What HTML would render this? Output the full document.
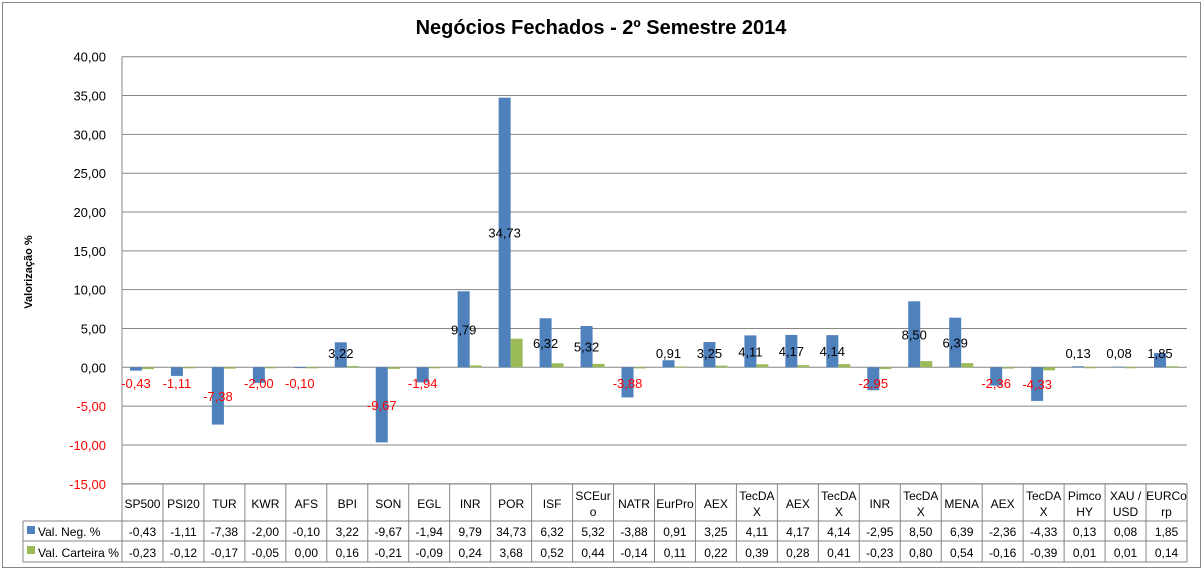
<!DOCTYPE html>
<html><head><meta charset="utf-8"><style>
body{margin:0;background:#fff;}
svg{display:block;font-family:"Liberation Sans","DejaVu Sans",sans-serif;}
</style></head><body>
<svg id="c" width="1204" height="571" xmlns="http://www.w3.org/2000/svg"></svg>
<script>
const cats=["SP500","PSI20","TUR","KWR","AFS","BPI","SON","EGL","INR","POR","ISF","SCEur|o","NATR","EurPro","AEX","TecDA|X","AEX","TecDA|X","INR","TecDA|X","MENA","AEX","TecDA|X","Pimco|HY","XAU /|USD","EURCo|rp"];
const a=[-0.43,-1.11,-7.38,-2.00,-0.10,3.22,-9.67,-1.94,9.79,34.73,6.32,5.32,-3.88,0.91,3.25,4.11,4.17,4.14,-2.95,8.50,6.39,-2.36,-4.33,0.13,0.08,1.85];
const b=[-0.23,-0.12,-0.17,-0.05,0.00,0.16,-0.21,-0.09,0.24,3.68,0.52,0.44,-0.14,0.11,0.22,0.39,0.28,0.41,-0.23,0.80,0.54,-0.16,-0.39,0.01,0.01,0.14];
const L=122,R=1187,W=(R-L)/26,Y0=367.3,S=7.764;
const y=v=>Y0-v*S;
const f=v=>v.toFixed(2).replace('.',',');
let s='';
s+='<rect x="2.5" y="2.5" width="1198" height="565" fill="#fff" stroke="#868686"/>';
s+='<text x="601" y="34" font-size="20" font-weight="bold" text-anchor="middle">Negócios Fechados - 2º Semestre 2014</text>';
s+='<text transform="translate(32,272) rotate(-90)" font-size="11" font-weight="bold" text-anchor="middle">Valorização %</text>';
for(let v=40;v>=-15;v-=5){const yy=y(v);
 s+=`<line x1="${L}" x2="${R}" y1="${yy}" y2="${yy}" stroke="#868686"/>`;
 s+=`<text x="106" y="${yy+5}" font-size="13" text-anchor="end" fill="${v<0?'#f00':'#000'}">${f(v)}</text>`;}
s+=`<line x1="${L}" x2="${L}" y1="${y(40)}" y2="562" stroke="#868686"/>`;
for(let i=0;i<26;i++){const c=L+W*(i+0.5);
 const ya=y(a[i]),yb=y(b[i]);
 s+=`<rect x="${c-12.5}" y="${Math.min(ya,Y0)}" width="12" height="${Math.abs(ya-Y0)}" fill="#4F81BD"/>`;
 s+=`<rect x="${c-0.5}" y="${Math.min(yb,Y0)}" width="12" height="${Math.max(Math.abs(yb-Y0),1)}" fill="#9BBB59"/>`;
 let ly=(ya+Y0)/2; if(a[i]>=0) ly=Math.min(ly,353); else ly=Math.max(ly,383);
 s+=`<text x="${c-6.5}" y="${ly+5}" font-size="13" text-anchor="middle" fill="${a[i]<0?'#f00':'#000'}">${f(a[i])}</text>`;
}
const T=484,H1=521,H2=541,H3=562;
s+=`<line x1="${L}" x2="${R}" y1="${T}" y2="${T}" stroke="#868686"/>`;
s+=`<line x1="23" x2="${R}" y1="${H1}" y2="${H1}" stroke="#868686"/>`;
s+=`<line x1="23" x2="${R}" y1="${H2}" y2="${H2}" stroke="#868686"/>`;
s+=`<line x1="23" x2="${R}" y1="${H3}" y2="${H3}" stroke="#868686"/>`;
s+=`<line x1="23" x2="23" y1="${H1}" y2="${H3}" stroke="#868686"/>`;
for(let i=0;i<=26;i++){const x=L+W*i;s+=`<line x1="${x}" x2="${x}" y1="${T}" y2="${H3}" stroke="#868686"/>`;}
for(let i=0;i<26;i++){const c=L+W*(i+0.5);const p=cats[i].split('|');
 if(p.length==1) s+=`<text x="${c}" y="${508}" font-size="12" text-anchor="middle">${p[0]}</text>`;
 else{s+=`<text x="${c}" y="${500}" font-size="12" text-anchor="middle">${p[0]}</text>`;s+=`<text x="${c}" y="${516}" font-size="12" text-anchor="middle">${p[1]}</text>`;}
 s+=`<text x="${c}" y="${536}" font-size="12" text-anchor="middle">${f(a[i])}</text>`;
 s+=`<text x="${c}" y="${557}" font-size="12" text-anchor="middle">${f(b[i])}</text>`;
}
s+=`<rect x="27" y="526" width="8" height="8" fill="#4F81BD"/><text x="38" y="536" font-size="12">Val. Neg. %</text>`;
s+=`<rect x="27" y="546" width="8" height="8" fill="#9BBB59"/><text x="38" y="557" font-size="12" textLength="81" lengthAdjust="spacingAndGlyphs">Val. Carteira %</text>`;
document.getElementById('c').innerHTML=s;
</script>
</body></html>
